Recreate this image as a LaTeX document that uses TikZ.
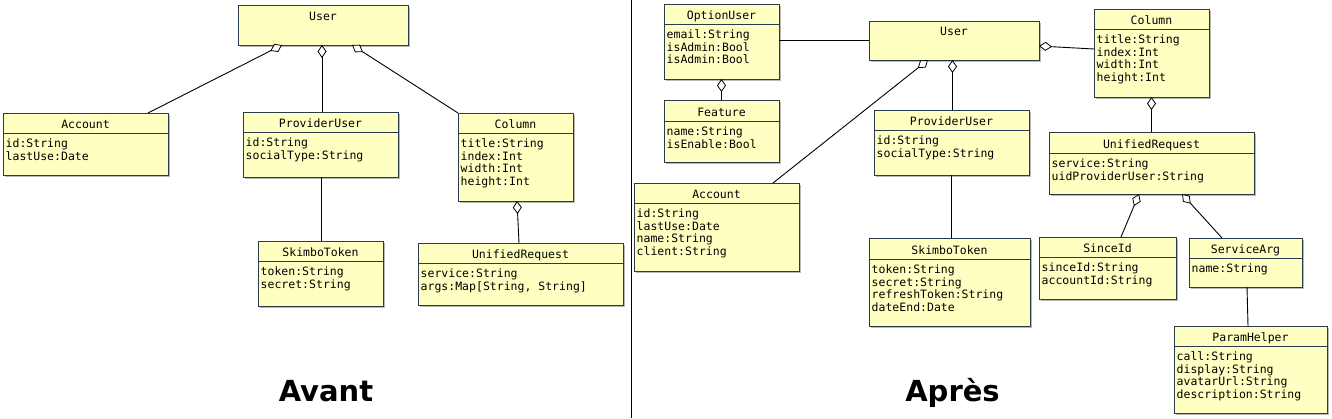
\documentclass[tikz,border=0pt]{standalone}
\usepackage{fontspec}
\setmainfont{DejaVu Sans}
\newfontfamily\umlfont{DejaVu Sans Mono}
\usetikzlibrary{arrows.meta,shadows}
\definecolor{clsfill}{HTML}{FFFFC2}
\definecolor{clsdraw}{HTML}{2A3B4C}
\tikzset{
  clsbox/.style={draw=clsdraw, fill=clsfill, line width=0.9pt, inner sep=0pt, outer sep=0pt,
    drop shadow={shadow xshift=2pt, shadow yshift=-2pt, fill=black, opacity=0.28}},
  clssep/.style={draw=clsdraw, line width=0.9pt},
  clstitle/.style={font=\umlfont\fontsize{11.5}{12.8}\selectfont, inner sep=0pt, anchor=base},
  clsattr/.style={font=\umlfont\fontsize{11.5}{12.8}\selectfont, inner sep=0pt, anchor=base west},
  conn/.style={draw=black, line width=0.9pt},
  agg/.style={conn, -{Diamond[fill=white, length=13pt, width=9pt, line width=0.8pt]}},
  bigtitle/.style={font=\fontsize{29}{34}\selectfont\bfseries, inner sep=0pt, anchor=base},
}
% name, left, top, right, bottom, separator y, title, attributes
\newcommand\umlclass[8]{%
  \node[clsbox, anchor=north west, minimum width={(#4-#2)*1pt}, minimum height={(#5-#3)*1pt}] (#1) at (#2,#3) {};
  \draw[clssep] (#2,#6) -- (#4,#6);
  \node[clstitle] (#1-t) at ({(#2+#4)/2},#6-4.5) {#7};
  \foreach \a [count=\i from 0] in {#8} {
    \node[clsattr] (#1-a\i) at (#2+2.5,#6+14.3+12.8*\i) {\a};
  }
}
% name, left, top, right, bottom, title baseline, title
\newcommand\umlplain[7]{%
  \node[clsbox, anchor=north west, minimum width={(#4-#2)*1pt}, minimum height={(#5-#3)*1pt}] (#1) at (#2,#3) {};
  \node[clstitle] (#1-t) at ({(#2+#4)/2},#6) {#7};
}
\begin{document}
\begin{tikzpicture}[x=1pt,y=-1pt]
\path[use as bounding box, fill=white] (0,0) rectangle (1332,418);

% divider
\coordinate (divtop) at (631.5,0);
\coordinate (divbot) at (631.5,418);
\draw[line width=1pt] (divtop) -- (divbot);

% ---------------- Avant ----------------
\umlplain{userL}{238}{5}{408}{45}{20}{User}
\umlclass{accL}{3}{113}{168}{175}{133}{Account}{id:String,lastUse:Date}
\umlclass{provL}{243}{112}{398}{177}{132}{ProviderUser}{id:String,socialType:String}
\umlclass{colL}{458}{113}{573}{201}{133}{Column}{title:String,index:Int,width:Int,height:Int}
\umlclass{tokL}{258}{241}{383}{306}{261}{SkimboToken}{token:String,secret:String}
\umlclass{urL}{418}{243}{623}{305}{263}{UnifiedRequest}{service:String,{args:Map[String, String]}}

\draw[agg] ([xshift=145pt]accL.north west) -- ([xshift=44pt]userL.south west);
\coordinate (pLt) at ([xshift=1.5pt]provL.north);
\draw[agg] (pLt) -- (pLt |- userL.south);
\draw[agg] (colL.north west) -- ([xshift=114pt]userL.south west);
\coordinate (tLt) at ([xshift=63pt]tokL.north west);
\draw[conn] (tLt) -- (tLt |- provL.south);
\draw[agg] ([xshift=101pt]urL.north west) -- ([xshift=59pt]colL.south west);

\node[bigtitle] (avant) at (326,401) {Avant};

% ---------------- Après ----------------
\umlclass{optU}{664}{4}{779}{79}{24}{OptionUser}{email:String,isAdmin:Bool,isAdmin:Bool}
\umlplain{userR}{869}{21}{1039}{60}{35}{User}
\umlclass{feat}{664}{100}{779}{162}{121}{Feature}{name:String,isEnable:Bool}
\umlclass{provR}{874}{110}{1029}{175}{130}{ProviderUser}{id:String,socialType:String}
\umlclass{accR}{634}{183}{799}{271}{203}{Account}{id:String,lastUse:Date,name:String,client:String}
\umlclass{tokR}{869}{238}{1030}{326}{259}{SkimboToken}{token:String,secret:String,refreshToken:String,dateEnd:Date}
\umlclass{colR}{1094}{9}{1209}{97}{29}{Column}{title:String,index:Int,width:Int,height:Int}
\umlclass{urR}{1049}{132}{1254}{194}{153}{UnifiedRequest}{service:String,uidProviderUser:String}
\umlclass{sid}{1039}{237}{1176}{299}{257}{SinceId}{sinceId:String,accountId:String}
\umlclass{svc}{1189}{238}{1302}{287}{258}{ServiceArg}{name:String}
\umlclass{param}{1174}{326}{1327}{413}{346}{ParamHelper}{call:String,display:String,avatarUrl:String,description:String}

\draw[conn] (optU.east |- userR.west) -- (userR.west);
\draw[agg] (feat.north) -- (feat.north |- optU.south);
\draw[agg] ([xshift=139pt]accR.north west) -- ([xshift=59pt]userR.south west);
\coordinate (pRt) at ([xshift=1pt]provR.north);
\draw[agg] (pRt) -- (pRt |- userR.south);
\draw[agg] ([yshift=4pt]colR.west) -- ([yshift=-5.5pt]userR.east);
\coordinate (tRt) at ([xshift=1.5pt]tokR.north);
\draw[conn] (tRt) -- (tRt |- provR.south);
\draw[agg] (urR.north) -- (colR.south);
\draw[agg] ([xshift=82pt]sid.north west) -- ([xshift=90pt]urR.south west);
\draw[agg] ([xshift=33pt]svc.north west) -- ([xshift=133pt]urR.south west);
\draw[conn] ([xshift=58pt]svc.south west) -- ([xshift=74pt]param.north west);

\node[bigtitle] (apres) at (952.5,401) {Après};
\end{tikzpicture}
\end{document}
